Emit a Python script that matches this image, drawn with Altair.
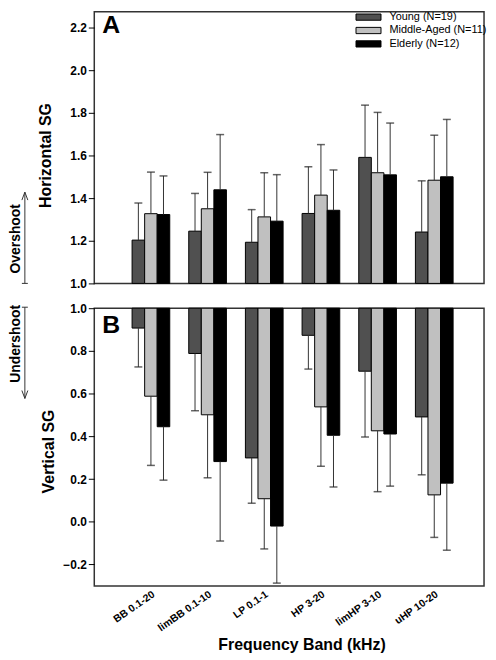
import altair as alt
import pandas as pd

bands = ["BB 0.1-20", "limBB 0.1-10", "LP 0.1-1", "HP 3-20", "limHP 3-10", "uHP 10-20"]
groups = ["Young (N=19)", "Middle-Aged (N=11)", "Elderly (N=12)"]
colors = ["#505050", "#c0c0c0", "#000000"]

# Panel A: Horizontal SG, bar value and end of the (upward) error bar
h_young = [1.203, 1.245, 1.193, 1.328, 1.591, 1.241]
h_young_err = [1.377, 1.422, 1.346, 1.547, 1.836, 1.481]
h_middle = [1.327, 1.350, 1.312, 1.414, 1.519, 1.484]
h_middle_err = [1.522, 1.521, 1.519, 1.651, 1.802, 1.695]
h_elderly = [1.323, 1.439, 1.292, 1.343, 1.509, 1.500]
h_elderly_err = [1.504, 1.698, 1.510, 1.532, 1.752, 1.769]

# Panel B: Vertical SG, bar value and end of the (downward) error bar
v_young = [0.907, 0.788, 0.299, 0.873, 0.705, 0.491]
v_young_err = [0.725, 0.520, 0.087, 0.715, 0.397, 0.220]
v_middle = [0.588, 0.501, 0.108, 0.538, 0.426, 0.126]
v_middle_err = [0.264, 0.206, -0.127, 0.260, 0.141, -0.073]
v_elderly = [0.445, 0.282, -0.020, 0.405, 0.411, 0.181]
v_elderly_err = [0.195, -0.090, -0.287, 0.163, 0.167, -0.133]

ticks_a = [1.0, 1.2, 1.4, 1.6, 1.8, 2.0, 2.2]
ticks_b = [-0.2, 0.0, 0.2, 0.4, 0.6, 0.8, 1.0]


def frame(means, errs):
    rows = []
    for g, m, e in zip(groups, means, errs):
        for b, v, ev in zip(bands, m, e):
            rows.append({"band": b, "group": g, "value": v, "err": ev})
    return pd.DataFrame(rows)


df_a = frame([h_young, h_middle, h_elderly], [h_young_err, h_middle_err, h_elderly_err])
df_b = frame([v_young, v_middle, v_elderly], [v_young_err, v_middle_err, v_elderly_err])

PW = 393
xscale = alt.Scale(paddingInner=0.335, paddingOuter=0.6064, align=0.55)
xoff = alt.XOffset("group:N", sort=groups, scale=alt.Scale(paddingInner=0, paddingOuter=0))

x_axis_b = alt.Axis(
    title="Frequency Band (kHz)", labelAngle=-35, labelFontSize=10.5, labelFontWeight="bold",
    ticks=False, labelPadding=3, titleFontSize=16, titleFontWeight="bold",
    titlePadding=3, titleX=209,
)


def panel(df, domain, height, ticks, ytitle, title_x, title_y, letter, letter_y,
          show_x, legend, note, note_y, shaft, tail_y, head_y, head_shape):
    xenc = alt.X("band:N", sort=bands, scale=xscale, axis=x_axis_b if show_x else None)
    yscale = alt.Scale(domain=domain, nice=False, zero=False)
    yaxis = alt.Axis(values=ticks, format=".1f", title=ytitle, titleX=title_x, titleY=title_y,
                     titleAngle=270, titleAlign="center", titleBaseline="middle",
                     titleFontSize=16, titleFontWeight="bold")
    base = alt.Chart(df)
    bars = base.mark_bar(stroke="black", strokeWidth=1).encode(
        x=xenc, xOffset=xoff,
        y=alt.Y("value:Q", scale=yscale, axis=yaxis),
        y2=alt.datum(1.0),
        color=alt.Color("group:N", sort=groups,
                        scale=alt.Scale(domain=groups, range=colors), legend=legend),
    )
    err = base.mark_rule(color="#333333", strokeWidth=1).encode(
        x=xenc, xOffset=xoff,
        y=alt.Y("value:Q", scale=yscale, axis=yaxis), y2="err:Q",
    )
    cap = base.mark_tick(color="#222222", thickness=1.5, size=8, orient="horizontal").encode(
        x=xenc, xOffset=xoff,
        y=alt.Y("err:Q", scale=yscale, axis=yaxis),
    )
    lab = alt.Chart(pd.DataFrame({"t": [letter]})).mark_text(
        fontSize=25, fontWeight="bold", align="left", baseline="top", color="black"
    ).encode(text="t:N", x=alt.value(8), y=alt.value(letter_y))
    ndf = pd.DataFrame({"t": [note]})
    ntext = alt.Chart(ndf).mark_text(
        angle=270, fontSize=14, fontWeight="bold", align="center", baseline="middle", color="black"
    ).encode(text="t:N", x=alt.value(-79), y=alt.value(note_y))
    nshaft = alt.Chart(ndf).mark_rule(color="#333333", strokeWidth=1).encode(
        x=alt.value(-70), y=alt.value(shaft[0]), y2=alt.value(shaft[1]))
    ntail = alt.Chart(ndf).mark_rule(color="#333333", strokeWidth=1).encode(
        x=alt.value(-73), x2=alt.value(-67), y=alt.value(tail_y))
    nhead = alt.Chart(ndf).mark_point(
        shape=head_shape, size=64, filled=False, stroke="#333333", strokeWidth=1, opacity=1
    ).encode(x=alt.value(-70), y=alt.value(head_y))
    return alt.layer(bars, err, cap, lab, ntext, nshaft, ntail, nhead).properties(
        width=PW, height=height)


legend_a = alt.Legend(
    title=None, orient="none", legendX=271, legendY=0, padding=0,
    symbolType="M-3.6,-0.9H3.6V0.9H-3.6Z", symbolSize=49, symbolStrokeColor="black",
    symbolStrokeWidth=1, symbolOpacity=1, labelOffset=15.6, labelFontSize=11,
    labelFont="Liberation Sans", labelColor="black", rowPadding=1.5,
)

top = panel(df_a, [1.0, 2.2744], 274, ticks_a, "Horizontal SG", -49, 144.5, "A", 2,
            False, legend_a, "Overshoot", 229, (182, 274), 274, 186, "M-0.75,1L0,-1L0.75,1")
bottom = panel(df_b, [-0.3, 1.0], 280, ticks_b, "Vertical SG", -46.5, 144, "B", 5,
               True, None, "Undershoot", 36, (-1, 91), -1, 87, "M-0.75,-1L0,1L0.75,-1")

chart = alt.vconcat(top, bottom, spacing=11).resolve_scale(
    y="independent", color="independent"
).resolve_legend(color="independent").properties(
    padding=0
).configure(
    font="Liberation Sans"
).configure_view(
    stroke="#333333", strokeWidth=1.5
).configure_axis(
    domain=False, grid=False, ticks=True, tickSize=6, tickColor="black", tickWidth=1,
    labelFontSize=12, labelFontWeight="bold", labelColor="black", labelPadding=2,
    titleColor="black",
)

chart.save("out.html", embed_options={"renderer": "svg", "actions": False})
